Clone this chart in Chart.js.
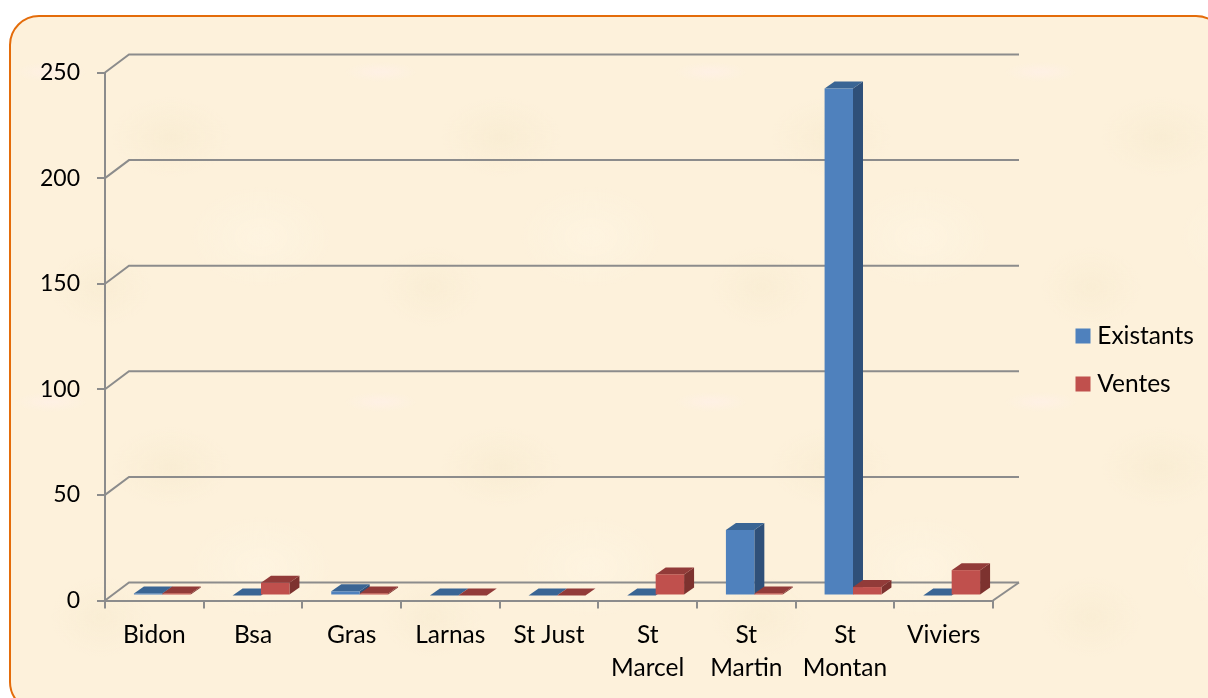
<!DOCTYPE html>
<html>
<head>
<meta charset="utf-8">
<title>Existants / Ventes</title>
<script src="https://cdn.jsdelivr.net/npm/chart.js@4"></script>
<style>
  html, body { margin: 0; padding: 0; background: #fff; overflow: hidden; }
  #wrap { position: relative; width: 1208px; height: 698px; overflow: hidden; }
  #card {
    position: absolute; left: 9px; top: 15px; width: 1217px; height: 697px;
    box-sizing: border-box; border: 2px solid #E46C0A; border-radius: 30px;
    background-color: #FDF1DB;
    background-image:
      radial-gradient(ellipse 36px 10px at 40px 55px, rgba(255,240,235,.6), transparent),
      radial-gradient(ellipse 60px 40px at 160px 120px, rgba(240,225,190,.25), transparent),
      radial-gradient(ellipse 70px 50px at 250px 220px, rgba(255,248,232,.4), transparent),
      radial-gradient(ellipse 50px 40px at 90px 270px, rgba(240,225,190,.22), transparent);
    background-size: 330px 330px;
  }
  canvas { position: absolute; left: 0; top: 0; }
</style>
</head>
<body>
<div id="wrap">
  <div id="card"></div>
  <canvas id="chart" width="1208" height="698"></canvas>
</div>
<script>
// --- Data ---
const categories = ['Bidon', 'Bsa', 'Gras', 'Larnas', 'St Just', ['St', 'Marcel'], ['St', 'Martin'], ['St', 'Montan'], 'Viviers'];
const existants = [1, 0, 2, 0, 0, 0, 31, 240, 0];
const ventes = [1, 6, 1, 0, 0, 10, 1, 4, 12];
const yTicks = [0, 50, 100, 150, 200, 250];

// --- 3D look ---
const wallDepth = { x: 24, y: -18 };
const barShift = { x: 8, y: -5 };
const barDepth = { x: 10, y: -7 };
const gridColor = '#8C8C8C';
const fontName = 'Lato, Carlito, sans-serif';

function poly(ctx, pts, color) {
    ctx.beginPath();
    pts.forEach((p, i) => (i ? ctx.lineTo(p[0], p[1]) : ctx.moveTo(p[0], p[1])));
    ctx.closePath();
    ctx.fillStyle = color;
    ctx.fill();
}

// Back wall lines and the floor, all taken from the scales
const wallPlugin = {
    id: 'wall',
    beforeDatasetsDraw(chart) {
        const { ctx, chartArea, scales } = chart;
        ctx.save();
        ctx.strokeStyle = gridColor;
        ctx.lineWidth = 2;
        yTicks.forEach(v => {
            const y = scales.y.getPixelForValue(v);
            ctx.beginPath();
            ctx.moveTo(chartArea.left, y);
            ctx.lineTo(chartArea.left + wallDepth.x, y + wallDepth.y);
            ctx.lineTo(chartArea.right + wallDepth.x + 2, y + wallDepth.y);
            ctx.stroke();
        });
        const y0 = scales.y.getPixelForValue(0);
        ctx.beginPath();
        ctx.moveTo(chartArea.right, y0);
        ctx.lineTo(chartArea.right + wallDepth.x + 2, y0 + wallDepth.y);
        ctx.stroke();
        ctx.restore();
    }
};

// Top and side faces of the bars, the front face is the normal Chart.js bar.
// Faces go down first, left series before right one, so Ventes covers the side of Existants.
const barPlugin = {
    id: 'bar3d',
    beforeDatasetsDraw(chart) {
        const { ctx } = chart;
        ctx.save();
        ctx.translate(barShift.x, barShift.y);
        chart.data.datasets.forEach((ds, i) => {
            chart.getDatasetMeta(i).data.forEach(bar => {
                const l = bar.x - bar.width / 2;
                const r = bar.x + bar.width / 2;
                const t = bar.y;
                const b = bar.base;
                const dx = barDepth.x;
                const dy = barDepth.y;
                poly(ctx, [[r, t], [r + dx, t + dy], [r + dx, b + dy], [r, b]], ds.sideColor);
                poly(ctx, [[l, t], [l + dx, t + dy], [r + dx, t + dy], [r, t]], ds.topColor);
            });
        });
    },
    afterDatasetsDraw(chart) {
        chart.ctx.restore();
    }
};

// Put the legend where it sits in the reference, beside the plot
const legendPlace = {
    id: 'legendPlace',
    afterLayout(chart) {
        const lg = chart.legend;
        lg.left = 1057.5;
        lg.right = 1208;
        lg.top = 100;
        lg.bottom = 620;
    }
};

const ctx = document.getElementById('chart');

new Chart(ctx, {
    type: 'bar',
    data: {
        labels: categories,
        datasets: [
            {
                label: 'Existants',
                data: existants,
                backgroundColor: '#4F81BD',
                topColor: '#3A6594',
                sideColor: '#2F5079',
                clip: false
            },
            {
                label: 'Ventes',
                data: ventes,
                backgroundColor: '#C0504D',
                topColor: '#923B39',
                sideColor: '#7D322F',
                clip: false
            }
        ]
    },
    options: {
        responsive: false,
        animation: false,
        layout: { padding: { left: 0, top: 72.5, right: 215, bottom: 0 } },
        datasets: { bar: { categoryPercentage: 0.576, barPercentage: 1 } },
        scales: {
            x: {
                afterFit(scale) { scale.height = 97.5; },
                border: { color: gridColor, width: 2 },
                grid: { drawOnChartArea: false, color: gridColor, lineWidth: 2, tickLength: 8 },
                ticks: {
                    color: '#000',
                    padding: 11,
                    maxRotation: 0,
                    autoSkip: false,
                    font: { family: fontName, size: 24.5, lineHeight: 1.31 }
                }
            },
            y: {
                min: 0,
                max: 250,
                afterFit(scale) { scale.width = 105; },
                afterBuildTicks(scale) { scale.ticks = yTicks.map(v => ({ value: v })); },
                border: { color: gridColor, width: 2 },
                grid: { drawOnChartArea: false, color: gridColor, lineWidth: 2, tickLength: 8 },
                ticks: {
                    color: '#000',
                    padding: 17,
                    font: { family: fontName, size: 23 }
                }
            }
        },
        plugins: {
            tooltip: { enabled: false },
            legend: {
                position: 'chartArea',
                labels: {
                    color: '#000',
                    boxWidth: 4,
                    boxHeight: 4,
                    padding: 23.5,
                    font: { family: fontName, size: 24.5 },
                    generateLabels(chart) {
                        return Chart.defaults.plugins.legend.labels.generateLabels(chart)
                            .map(item => ({ ...item, strokeStyle: item.fillStyle, lineWidth: 11 }));
                    }
                }
            }
        }
    },
    plugins: [wallPlugin, barPlugin, legendPlace]
});
</script>
</body>
</html>
